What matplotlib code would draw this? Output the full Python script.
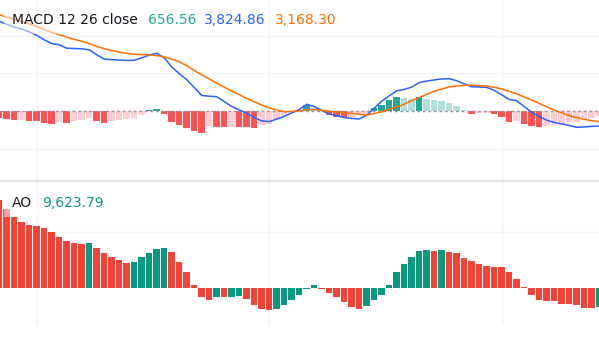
import numpy as np
import matplotlib
matplotlib.use("Agg")
import matplotlib.pyplot as plt
from matplotlib.patches import Rectangle
from matplotlib.lines import Line2D

# ---------------- data (arbitrary units) ----------------
bars = np.arange(81)

macd_hist = [-7.3, -7.5, -9.2, -8.8, -10, -10.2, -11.7, -12.7, -11.3, -11.5,
             -9.7, -9.3, -6.7, -9.7, -11.7, -9.7, -9, -8, -7.3, -4,
             1.5, 2, -3.3, -10.7, -14, -17.3, -19.5, -21.7, -15, -15.5,
             -16, -15.8, -16.2, -16.4, -16.6, -14, -13.3, -9, -5, -2.3,
             1.5, 6, 3, 1.5, -4, -5.7, -6.3, -5.5, -4, -3.3,
             3.3, 6, 11, 14.3, 13.3, 12, 14.5, 12, 11, 10,
             7.7, 5, 1, -2.7, -1.7, -1.5, -2.7, -5.7, -10.7, -9.7,
             -12.7, -14.7, -15.7, -15.3, -14, -13.7, -11.3, -10.7, -8, -6.7,
             -5]

macd_line = [89.6, 86.8, 84, 82, 79.1, 75.7, 71.2, 67.5, 66.2, 62.8,
             62.5, 62.2, 61.2, 56.2, 51.9, 51.4, 50.9, 50.6, 50.7, 53.2,
             55.9, 57.8, 53.3, 44, 37.5, 31.3, 23.5, 15.5, 14.8, 14.3,
             9.5, 4.5, 1.1, -2.2, -6.4, -9.9, -10.6, -8.1, -5.4, -1.9,
             1.5, 6.7, 4.5, 0.6, -2.9, -4.7, -6.5, -7.4, -8, -4.2,
             2.8, 9.8, 15.1, 20.2, 21.6, 23.9, 28.5, 29.9, 31.1, 32,
             32.4, 30.2, 27.2, 24.2, 24, 23.7, 20.6, 16.2, 11.5, 10.3,
             4.4, -1.3, -5.4, -9.2, -11.5, -12.9, -14.5, -16.3, -15.9, -15.4,
             -15]

signal_line = [96.2, 94, 91.7, 89.4, 87.1, 84.7, 81.6, 78.7, 76.3, 73.8,
               71.7, 69.7, 67.5, 64.6, 62.3, 60.5, 58.9, 57.7, 56.7, 56.4,
               56.1, 55.4, 54.2, 51.9, 49.1, 45.4, 40.6, 36.1, 32, 27.8,
               23.9, 20, 16.4, 12.6, 9.2, 6, 3.1, 1, -0.7, -0.4,
               0, 1.3, 1.5, 0.6, -0.2, -1, -1.7, -2.5, -3.2, -4,
               -2.5, -1, 2, 3.9, 6.8, 10.3, 13.5, 16.7, 19.7, 21.9,
               24.1, 25, 25.7, 25.8, 25.4, 25, 23.7, 22.1, 19.6, 17.1,
               14, 10.9, 7.6, 4.2, 0.9, -1.8, -4.6, -6.6, -8.4, -9.6,
               -10.7]

ao_values = [87.7, 78.7, 71, 66, 62.7, 61.7, 59.4, 56, 50.7, 46.7,
             45, 44, 44.3, 40, 35, 31, 27.7, 25, 26, 31,
             35, 38.7, 40, 36, 26, 16, 3, -9, -12, -9,
             -9.3, -9, -8, -11, -17, -21, -22, -21, -17, -12,
             -7, -1, 3, -1.3, -5, -9, -14, -19, -21, -18,
             -12, -7, 3, 16, 24, 31, 37, 38, 37, 38.2,
             36, 35, 30, 27, 24, 22, 21, 20.8, 16, 9,
             0.7, -7, -12, -13, -13.2, -16, -16.2, -17, -20, -20.2,
             -19]

macd_legend = ["MACD 12 26 close", "656.56", "3,824.86", "3,168.30"]
ao_legend = ["AO", "9,623.79"]

# ---------------- style ----------------
C_TEXT = "#131722"
C_GRID = "#f0f3fa"
C_MACD = "#2962FF"
C_SIG = "#FF6D00"
H_UP_RISE, H_UP_FALL = "#26A69A", "#B2DFDB"
H_DN_RISE, H_DN_FALL = "#FFCDD2", "#FF5252"
AO_UP, AO_DN = "#089981", "#F44336"

W, H = 599, 352
fig = plt.figure(figsize=(W / 100, H / 100), dpi=100)
fig.patch.set_facecolor("white")

def fx(x):
    return x / W

def fy(y):
    return (H - y) / H

ax1 = fig.add_axes([0, fy(180), 1, 180 / H])
ax2 = fig.add_axes([0, fy(325), 1, (325 - 182) / H])

xl = (0.107, 79.97)

h = np.array(macd_hist)
hp = np.r_[h[0], h[:-1]]
hcol = np.where(h >= 0, np.where(h > hp, H_UP_RISE, H_UP_FALL),
                np.where(h > hp, H_DN_RISE, H_DN_FALL))
ax1.bar(bars, h, width=0.86, color=hcol, zorder=2)
ax1.axhline(0, color="#9598a1", lw=1.0, ls=(0, (2, 2)), zorder=3)
ax1.plot(bars, macd_line, color=C_MACD, lw=1.1, zorder=4)
ax1.plot(bars, signal_line, color=C_SIG, lw=1.1, zorder=5)
ax1.set_xlim(*xl)
ax1.set_ylim(-69, 111)
ax1.set_yticks([-37.7, 37.7, 75.4])

a = np.array(ao_values)
ap = np.r_[a[0], a[:-1]]
acol = np.where(a > ap, AO_UP, AO_DN)
ax2.bar(bars, a, width=0.86, color=acol, zorder=2)
ax2.set_xlim(*xl)
ax2.set_ylim(-37.3, 105.7)
ax2.set_yticks([56])

for ax in (ax1, ax2):
    ax.set_xticks([5, 36, 67])
    ax.grid(True, color=C_GRID, lw=1.0, zorder=0)
    ax.set_axisbelow(True)
    ax.tick_params(length=0, labelleft=False, labelbottom=False)
    for s in ax.spines.values():
        s.set_visible(False)
    ax.set_facecolor("none")

# pane separator
fig.add_artist(Line2D([0, 1], [fy(181), fy(181)], color="#e0e3eb", lw=1.6))

# legend backgrounds (semi-transparent)
fig.add_artist(Rectangle((fx(4), fy(33.7)), fx(338), (33.7 - 6.6) / H,
                         facecolor="white", alpha=0.5, edgecolor="none"))
fig.add_artist(Rectangle((fx(4), fy(217)), fx(104), 26 / H,
                         facecolor="white", alpha=0.5, edgecolor="none"))

fs = 10
fam = "DejaVu Sans"
for txt, x, c in zip(macd_legend, [11.5, 147.7, 204, 275],
                     [C_TEXT, "#22ab94", C_MACD, C_SIG]):
    fig.text(fx(x), fy(24), txt, color=c, fontsize=fs, family=fam, va="baseline")
for txt, x, c in zip(ao_legend, [11.5, 41.7], [C_TEXT, AO_UP]):
    fig.text(fx(x), fy(207.3), txt, color=c, fontsize=fs, family=fam, va="baseline")

fig.savefig("out.png", dpi=100, facecolor="white")
